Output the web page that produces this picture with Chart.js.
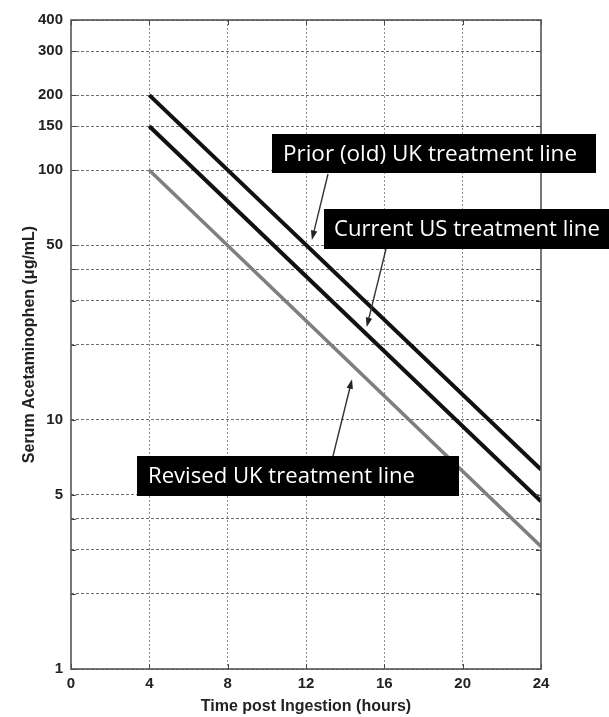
<!DOCTYPE html>
<html>
<head>
<meta charset="utf-8">
<script src="https://cdn.jsdelivr.net/npm/chart.js@4/dist/chart.umd.min.js"></script>
<style>
  html, body { margin:0; padding:0; background:#fff; }
  #wrap { width:609px; height:717px; position:relative; }
</style>
</head>
<body>
<div id="wrap"><canvas id="c"></canvas></div>
<script>
// nomogram lines
const hours = [4, 24];
const priorUK = [200, 6.3];
const currentUS = [150, 4.7];
const revisedUK = [100, 3.1];

// axis ticks
const xTicks = [0, 4, 8, 12, 16, 20, 24];
const yGrid = [1, 2, 3, 4, 5, 10, 20, 30, 40, 50, 100, 150, 200, 300, 400];
const yLabels = [1, 5, 10, 50, 100, 150, 200, 300, 400];

// callout labels + where their arrows point (data coords)
const calloutText = ['Prior (old) UK treatment line', 'Current US treatment line', 'Revised UK treatment line'];
const arrowTipX = [12.3, 15.1, 14.35];
const arrowTipY = [52.5, 23.5, 14.5];

// box geometry in px (layout only)
const boxes = [
  { x:272, y:134, w:324, h:39, tx:283, tw:294, tailX:328, tailY:174 },
  { x:324, y:209, w:290, h:40, tx:334, tw:266, tailX:386, tailY:249 },
  { x:137, y:456, w:322, h:40, tx:148, tw:267, tailX:333, tailY:456 }
];

const mkLine = (vals, color, w) => ({
  data: hours.map((h, i) => ({ x: h, y: vals[i] })),
  borderColor: color, borderWidth: w, pointRadius: 0, fill: false, tension: 0
});

function arrow(ctx, x0, y0, x1, y1){
  const a = Math.atan2(y1 - y0, x1 - x0), L = 10, s = 0.33;
  ctx.beginPath(); ctx.moveTo(x0, y0); ctx.lineTo(x1 - Math.cos(a)*4, y1 - Math.sin(a)*4); ctx.stroke();
  ctx.beginPath();
  ctx.moveTo(x1, y1);
  ctx.lineTo(x1 - L*Math.cos(a - s), y1 - L*Math.sin(a - s));
  ctx.lineTo(x1 - L*Math.cos(a + s), y1 - L*Math.sin(a + s));
  ctx.closePath(); ctx.fill();
}

const frame = {
  id: 'frame',
  afterDraw(chart){
    const { ctx, chartArea: a, scales } = chart;
    ctx.save();
    // inward tick marks
    ctx.strokeStyle = '#444'; ctx.lineWidth = 1;
    yGrid.forEach(v => {
      const y = Math.round(scales.y.getPixelForValue(v)) + 0.5;
      ctx.beginPath(); ctx.moveTo(a.left, y); ctx.lineTo(a.left + 5, y);
      ctx.moveTo(a.right, y); ctx.lineTo(a.right - 5, y); ctx.stroke();
    });
    xTicks.forEach(v => {
      const x = Math.round(scales.x.getPixelForValue(v)) + 0.5;
      ctx.beginPath(); ctx.moveTo(x, a.bottom); ctx.lineTo(x, a.bottom - 5);
      ctx.moveTo(x, a.top); ctx.lineTo(x, a.top + 5); ctx.stroke();
    });
    ctx.strokeStyle = '#555'; ctx.lineWidth = 1.6;
    ctx.strokeRect(a.left, a.top, a.right - a.left, a.bottom - a.top);

    // callouts
    boxes.forEach((b, i) => {
      ctx.fillStyle = '#000';
      ctx.fillRect(b.x, b.y, b.w, b.h);
      ctx.font = '22px "Open Sans"';
      const m = ctx.measureText(calloutText[i]).width;
      const fs = 22 * b.tw / m;
      ctx.font = fs.toFixed(2) + 'px "Open Sans"';
      ctx.fillStyle = '#fff'; ctx.textBaseline = 'middle'; ctx.textAlign = 'left';
      ctx.fillText(calloutText[i], b.tx, b.y + b.h/2 + 1);
      const tx = scales.x.getPixelForValue(arrowTipX[i]);
      const ty = scales.y.getPixelForValue(arrowTipY[i]);
      ctx.strokeStyle = '#333'; ctx.fillStyle = '#222'; ctx.lineWidth = 1.4;
      arrow(ctx, b.tailX, b.tailY, tx, ty);
    });
    ctx.restore();
  }
};

new Chart(document.getElementById('c'), {
  type: 'line',
  data: { datasets: [
    mkLine(priorUK, '#111', 4),
    mkLine(currentUS, '#111', 4),
    mkLine(revisedUK, '#7f7f7f', 3.5)
  ]},
  options: {
    responsive: true, maintainAspectRatio: false, animation: false,
    layout: { padding: { top: 20, right: 68, left: 0, bottom: 0 } },
    plugins: { legend: { display: false }, tooltip: { enabled: false } },
    scales: {
      x: {
        type: 'linear', min: 0, max: 24,
        border: { display: false, dash: [2, 2] },
        grid: { drawTicks: false, lineWidth: 1,
                color: c => (c.tick.value === 0 || c.tick.value === 24) ? 'rgba(0,0,0,0)' : '#8c8c8c' },
        afterBuildTicks: s => { s.ticks = xTicks.map(v => ({ value: v })); },
        afterFit: s => { s.height = 48; },
        ticks: { padding: 6, color: '#222', font: { family: 'Liberation Sans', size: 15, weight: 'bold' }, maxRotation: 0 },
        title: { display: true, text: 'Time post Ingestion (hours)', color: '#222',
                 font: { family: 'Liberation Sans', size: 16, weight: 'bold' }, padding: { top: 0, bottom: 1 } }
      },
      y: {
        type: 'logarithmic', min: 1, max: 400,
        border: { display: false, dash: [3, 2] },
        grid: { drawTicks: false, lineWidth: 1, color: '#6f6f6f' },
        afterBuildTicks: s => { s.ticks = yGrid.map(v => ({ value: v })); },
        afterFit: s => { s.width = 71; },
        ticks: { padding: 8, color: '#222', font: { family: 'Liberation Sans', size: 15, weight: 'bold' },
                 callback: v => yLabels.includes(v) ? String(v) : '' },
        title: { display: true, text: 'Serum Acetaminophen (μg/mL)', color: '#222',
                 font: { family: 'Liberation Sans', size: 16, weight: 'bold' }, padding: { top: 20, bottom: 0 } }
      }
    }
  },
  plugins: [frame]
});
</script>
</body>
</html>
